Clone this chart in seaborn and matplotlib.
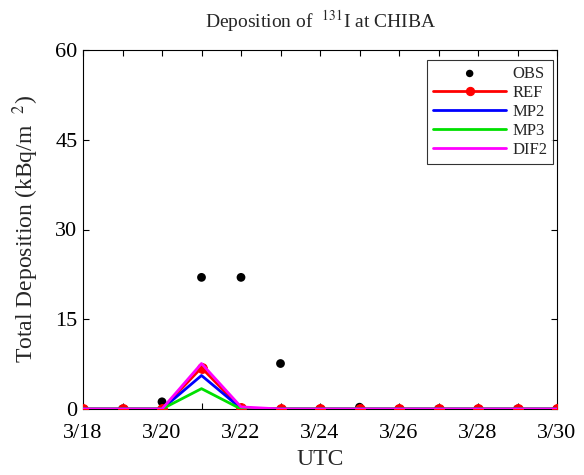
import matplotlib
matplotlib.use("Agg")
import matplotlib.pyplot as plt
import seaborn as sns
import numpy as np
import pandas as pd

days = [18, 19, 20, 21, 22, 23, 24, 25, 26, 27, 28, 29, 30]
obs = [0.0, 0.0, 1.2, 22.0, 22.0, 7.6, 0.0, 0.3, 0.0, 0.0, 0.0, 0.0, 0.0]
ref = [0.0, 0.0, 0.0, 6.9, 0.1, 0.0, 0.0, 0.0, 0.0, 0.0, 0.0, 0.0, 0.0]
mp2 = [0.0, 0.0, 0.0, 5.6, 0.1, 0.0, 0.0, 0.0, 0.0, 0.0, 0.0, 0.0, 0.0]
mp3 = [0.0, 0.0, 0.0, 3.4, 0.0, 0.0, 0.0, 0.0, 0.0, 0.0, 0.0, 0.0, 0.0]
dif2 = [0.0, 0.0, 0.0, 7.6, 0.35, 0.0, 0.0, 0.0, 0.0, 0.0, 0.0, 0.0, 0.0]
xtick_days = [18, 20, 22, 24, 26, 28, 30]
xtick_labels = ["3/18", "3/20", "3/22", "3/24", "3/26", "3/28", "3/30"]
yticks = [0, 15, 30, 45, 60]

sns.set_theme(style="white")
plt.rcParams['font.family'] = ['Liberation Serif', 'DejaVu Serif']
plt.rcParams['mathtext.fontset'] = 'stix'

df = pd.DataFrame({"day": days, "OBS": obs, "REF": ref, "MP2": mp2, "MP3": mp3, "DIF2": dif2})

fig = plt.figure(figsize=(5.84, 4.75), dpi=100)
ax = fig.add_axes([83/584, 1 - 409/475, (557-83)/584, (409-50)/475])

sns.scatterplot(data=df, x="day", y="OBS", ax=ax, color="black", s=40, edgecolor="none",
                label="OBS", zorder=3)
sns.lineplot(data=df, x="day", y="REF", ax=ax, color="red", lw=2, marker="o", markersize=7,
             markeredgecolor="red", label="REF", zorder=4)
sns.lineplot(data=df, x="day", y="MP2", ax=ax, color="blue", lw=2, label="MP2", zorder=4)
sns.lineplot(data=df, x="day", y="MP3", ax=ax, color="#00e000", lw=2, label="MP3", zorder=4)
sns.lineplot(data=df, x="day", y="DIF2", ax=ax, color="magenta", lw=2, label="DIF2", zorder=5)

ax.set_xlim(18, 30)
ax.set_ylim(0, 60)
ax.set_xticks(days)
ax.set_xticklabels([xtick_labels[xtick_days.index(d)] if d in xtick_days else "" for d in days])
ax.set_yticks(yticks)
ax.tick_params(axis="both", direction="in", length=4, width=0.8, labelsize=16, colors="black",
               top=True, right=True, bottom=True, left=True)
ax.tick_params(axis="x", pad=11)
ax.tick_params(axis="y", pad=4)
for sp in ax.spines.values():
    sp.set_color("black")
    sp.set_linewidth(0.8)
ax.set_xlabel("UTC", fontsize=17, labelpad=4)
ax.set_ylabel(r"Total Deposition (kBq/m  $^{2}$)", fontsize=17, labelpad=10)
ax.set_title(r"Deposition of  $^{131}$I at CHIBA", fontsize=14, pad=16)

leg = ax.legend(loc="upper right", fontsize=12, frameon=True, fancybox=False, edgecolor="black",
                handlelength=4.4, handletextpad=0.35, markerfirst=True, borderpad=0.35,
                labelspacing=0.18, borderaxespad=0, markerscale=0.85,
                bbox_to_anchor=((553-83)/474, (409-60)/359))
leg.get_frame().set_linewidth(0.8)

fig.savefig("out.png", dpi=100)
